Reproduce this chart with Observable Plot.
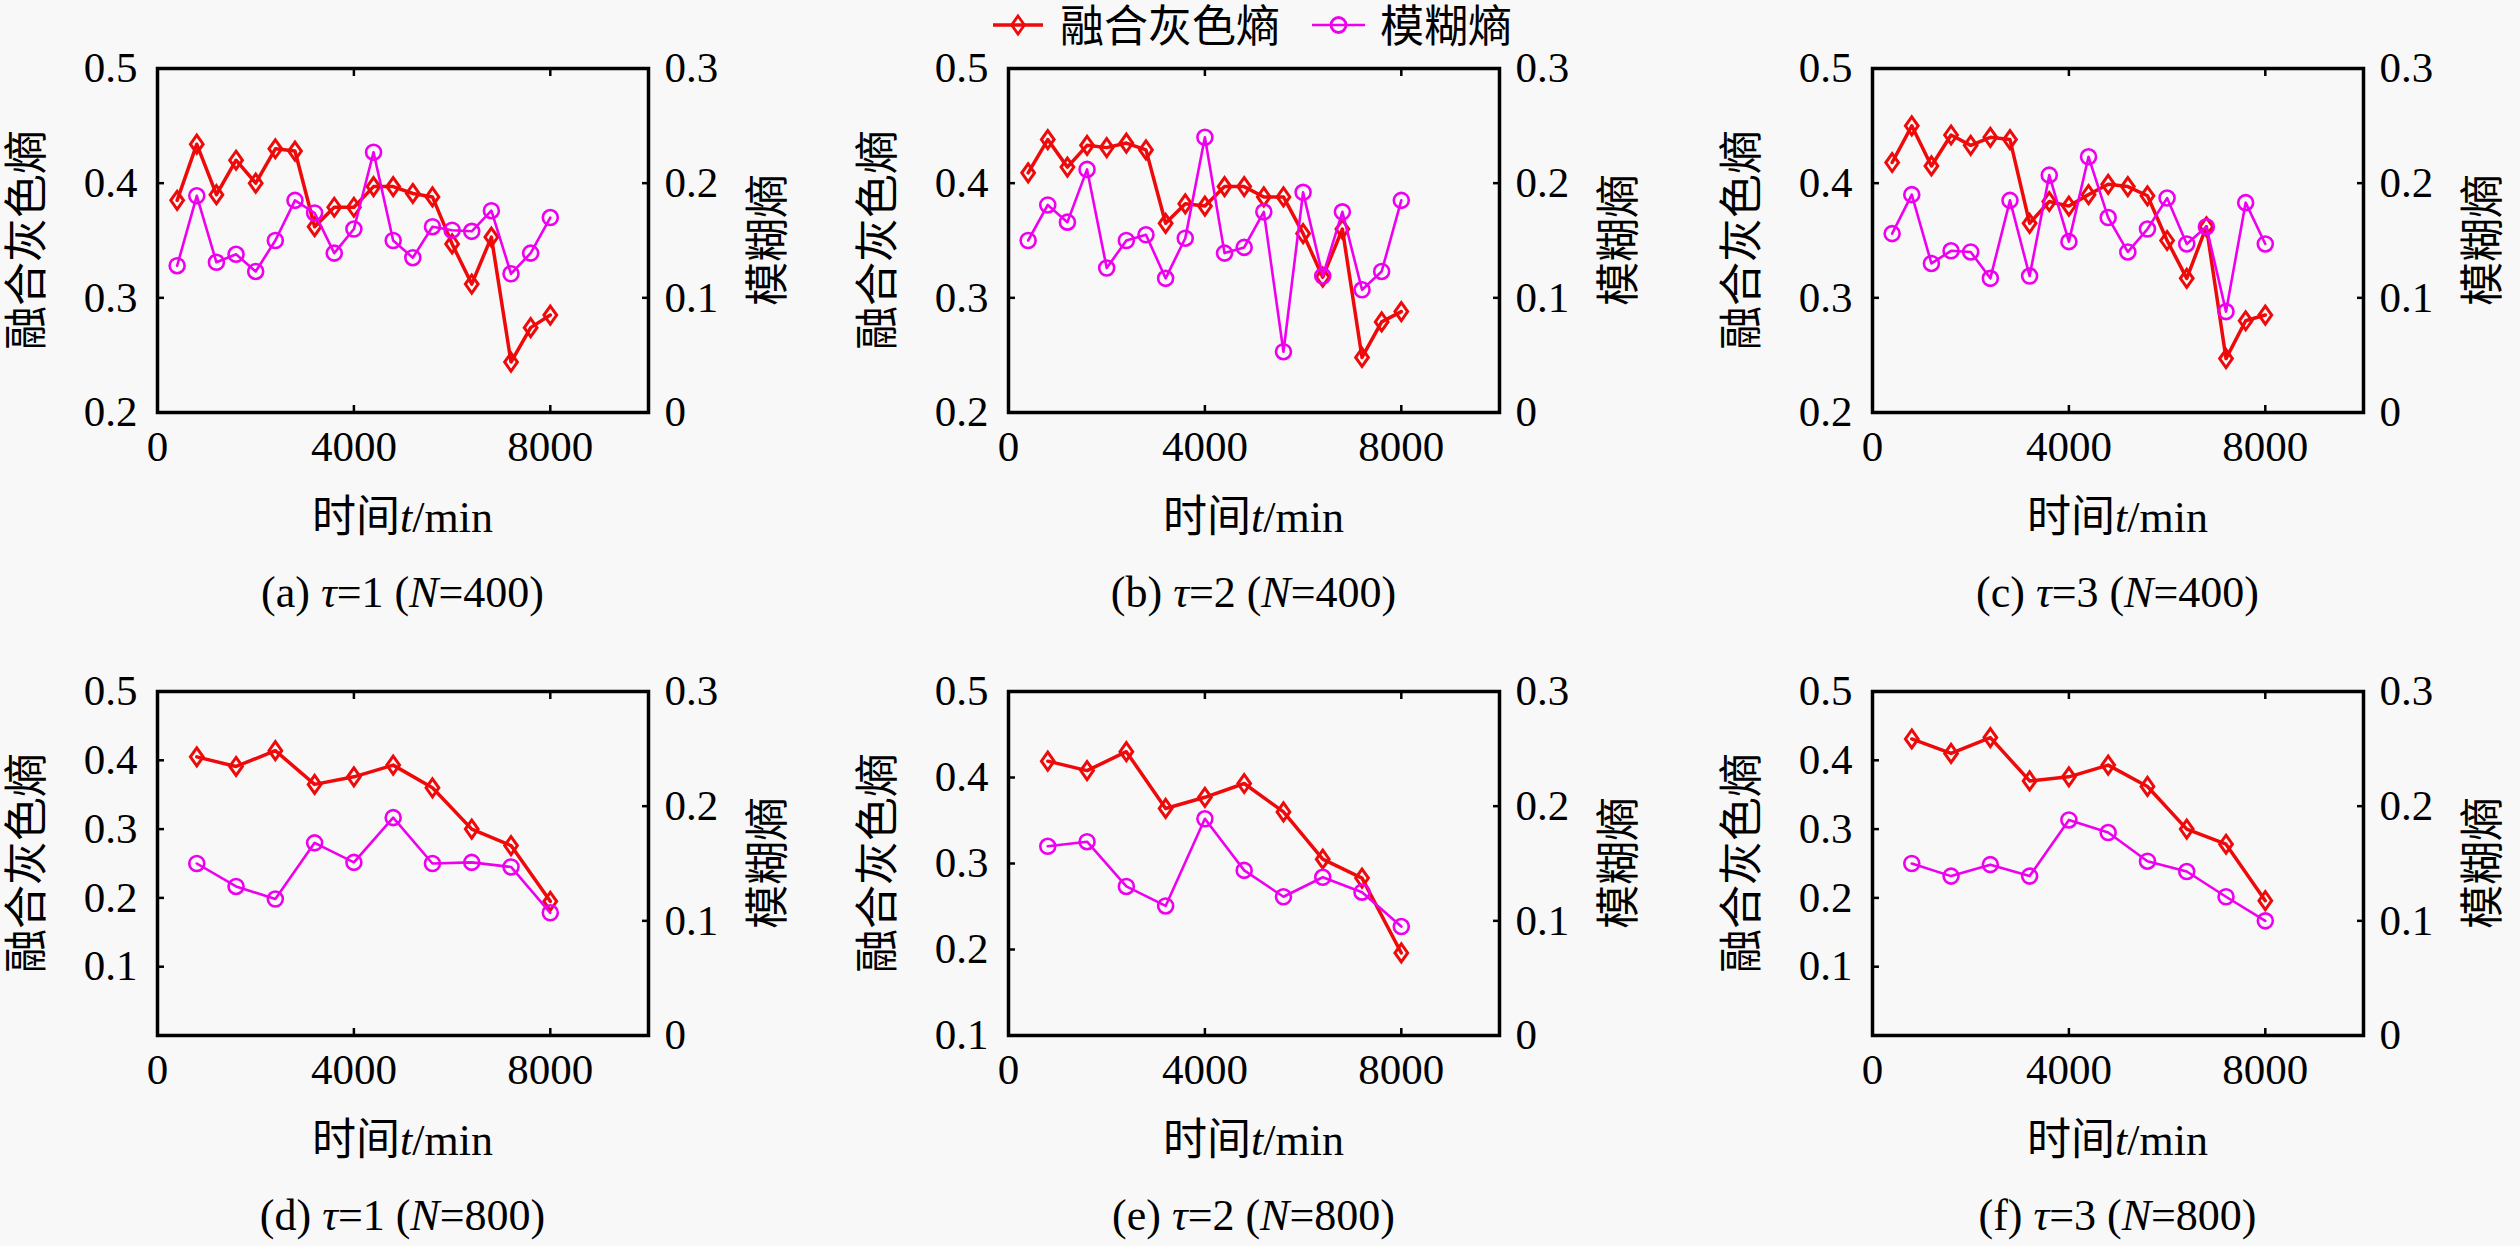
<!DOCTYPE html>
<html><head><meta charset="utf-8">
<script src="https://cdn.jsdelivr.net/npm/d3@7"></script>
<script src="https://cdn.jsdelivr.net/npm/@observablehq/plot@0.6"></script>
<style>
html,body{margin:0;padding:0;background:#f8f8f8;}
#root{position:relative;width:2520px;height:1246px;background:#f8f8f8;font-family:"Liberation Serif","Times New Roman","Noto Sans CJK SC",serif;color:#000;overflow:hidden}
.abs{position:absolute;white-space:nowrap;line-height:1}
svg text{font-family:"Liberation Serif","Times New Roman",serif;}
</style></head><body><div id="root"></div>
<script>
// ---------- data ----------
const time400 = [400,800,1200,1600,2000,2400,2800,3200,3600,4000,4400,4800,5200,5600,6000,6400,6800,7200,7600,8000];
const time800 = [800,1600,2400,3200,4000,4800,5600,6400,7200,8000];

const grayA  = [0.385,0.434,0.390,0.420,0.400,0.430,0.428,0.362,0.379,0.379,0.397,0.397,0.391,0.388,0.347,0.312,0.353,0.244,0.274,0.285];
const fuzzyA = [0.128,0.189,0.131,0.138,0.123,0.150,0.185,0.174,0.139,0.160,0.227,0.150,0.135,0.162,0.159,0.158,0.176,0.121,0.139,0.170];
const grayB  = [0.409,0.438,0.414,0.433,0.431,0.435,0.429,0.365,0.382,0.380,0.397,0.397,0.388,0.388,0.356,0.318,0.360,0.248,0.279,0.288];
const fuzzyB = [0.150,0.181,0.166,0.212,0.126,0.150,0.155,0.117,0.152,0.240,0.139,0.144,0.175,0.053,0.192,0.119,0.175,0.107,0.123,0.185];
const grayC  = [0.418,0.450,0.415,0.442,0.433,0.440,0.438,0.365,0.384,0.380,0.390,0.399,0.397,0.389,0.350,0.317,0.362,0.247,0.280,0.285];
const fuzzyC = [0.156,0.190,0.130,0.141,0.140,0.117,0.185,0.119,0.207,0.149,0.223,0.170,0.140,0.160,0.187,0.147,0.162,0.088,0.183,0.147];
const grayD  = [0.405,0.391,0.414,0.365,0.376,0.393,0.360,0.300,0.276,0.195];
const fuzzyD = [0.150,0.130,0.119,0.168,0.151,0.190,0.150,0.151,0.147,0.107];
const grayE  = [0.419,0.408,0.430,0.364,0.377,0.393,0.360,0.305,0.283,0.196];
const fuzzyE = [0.165,0.169,0.130,0.113,0.189,0.144,0.121,0.138,0.125,0.095];
const grayF  = [0.431,0.410,0.433,0.370,0.376,0.393,0.362,0.300,0.278,0.196];
const fuzzyF = [0.150,0.139,0.149,0.139,0.188,0.177,0.152,0.143,0.121,0.100];

const panelLetters = ["a","b","c","d","e","f"];
const tauValues = [1,2,3,1,2,3];
const nValues = [400,400,400,800,800,800];
const panelTimes = [time400,time400,time400,time800,time800,time800];
const panelGray = [grayA,grayB,grayC,grayD,grayE,grayF];
const panelFuzzy = [fuzzyA,fuzzyB,fuzzyC,fuzzyD,fuzzyE,fuzzyF];
const leftDomains = [[0.2,0.5],[0.2,0.5],[0.2,0.5],[0,0.5],[0.1,0.5],[0,0.5]];
const leftTicks = [[0.2,0.3,0.4,0.5],[0.2,0.3,0.4,0.5],[0.2,0.3,0.4,0.5],[0.1,0.2,0.3,0.4,0.5],[0.1,0.2,0.3,0.4,0.5],[0.1,0.2,0.3,0.4,0.5]];
const rightDomain = [0,0.3];
const rightTicks = [0,0.1,0.2,0.3];
const xDomain = [0,10000];
const xTicks = [0,4000,8000];

const seriesNames = ["融合灰色熵","模糊熵"];
const leftLabel = "融合灰色熵";
const rightLabel = "模糊熵";
const xLabelCn = "时间", xLabelVar = "t", xLabelUnit = "/min";

// ---------- style / layout ----------
const RED = "#ee0a0a", MAG = "#ee00ee";
const LATIN = '"Liberation Serif","Times New Roman",serif';
const CJK = '"Liberation Serif","Noto Sans CJK SC",serif';
const TICKFONT = {fontFamily: "Liberation Serif", fontSize: 43, fill: "#000"};
const frameLefts = [157,1008,1872], frameTops = [68,691];
const FW = 491, FH = 344;
const mL = 110, mR = 110, mT = 30, mB = 80;
const fmt = d3.format("~g");

const diamond = { draw(ctx, size) { const r = Math.sqrt(size/Math.PI); const h = r*1.2, w = r*0.85;
  ctx.moveTo(0,-h); ctx.lineTo(w,0); ctx.lineTo(0,h); ctx.lineTo(-w,0); ctx.closePath(); } };

const root = document.getElementById("root");
function addDiv(html, css) { const d = document.createElement("div"); d.className = "abs"; d.innerHTML = html; Object.assign(d.style, css); root.appendChild(d); return d; }

panelLetters.forEach((letter, i) => {
  const col = i % 3, row = Math.floor(i / 3);
  const fx = frameLefts[col], fy = frameTops[row];
  const W = FW + mL + mR, H = FH + mT + mB;
  const gray = panelTimes[i].map((t, j) => ({t, v: panelGray[i][j]}));
  const fuzzy = panelTimes[i].map((t, j) => ({t, v: panelFuzzy[i][j]}));
  const common = {width: W, height: H, marginLeft: mL, marginRight: mR, marginTop: mT, marginBottom: mB,
    style: {background: "transparent", fontFamily: LATIN, fontSize: "43px", color: "#000", overflow: "visible"}};

  const left = Plot.plot({...common,
    x: {domain: xDomain}, y: {domain: leftDomains[i]},
    marks: [
      Plot.axisX({...TICKFONT, ticks: xTicks, tickSize: -7, tickPadding: 25, tickFormat: d3.format("d"), label: null, strokeWidth: 2.5, stroke: "#000"}),
      Plot.axisX({anchor: "top", ticks: xTicks, tickSize: -7, tickFormat: () => "", label: null, strokeWidth: 2.5, stroke: "#000"}),
      Plot.axisY({...TICKFONT, ticks: leftTicks[i], tickSize: -7, tickPadding: 27, tickFormat: fmt, label: null, strokeWidth: 2.5, stroke: "#000"}),
      Plot.line(gray, {x: "t", y: "v", stroke: RED, strokeWidth: 3.5}),
      Plot.dot(gray, {x: "t", y: "v", symbol: diamond, r: 7.5, stroke: RED, strokeWidth: 3, fill: "none"}),
      Plot.frame({stroke: "#000", strokeWidth: 3.5})
    ]});
  const right = Plot.plot({...common,
    x: {domain: xDomain, axis: null}, y: {domain: rightDomain},
    marks: [
      Plot.axisY({...TICKFONT, anchor: "right", ticks: rightTicks, tickSize: -7, tickPadding: 23, tickFormat: fmt, label: null, strokeWidth: 2.5, stroke: "#000"}),
      Plot.line(fuzzy, {x: "t", y: "v", stroke: MAG, strokeWidth: 2.6}),
      Plot.dot(fuzzy, {x: "t", y: "v", symbol: "circle", r: 7.5, stroke: MAG, strokeWidth: 2.6, fill: "none"})
    ]});
  const box = document.createElement("div");
  Object.assign(box.style, {position: "absolute", left: (fx - mL) + "px", top: (fy - mT) + "px", width: W + "px", height: H + "px"});
  [left, right].forEach(s => { s.style.position = "absolute"; s.style.left = "0px"; s.style.top = "0px"; s.style.maxWidth = "none"; box.appendChild(s); });
  root.appendChild(box);

  const cx = fx + FW / 2, cy = fy + FH / 2;
  addDiv(leftLabel, {left: (fx - 129) + "px", top: cy + "px", fontFamily: CJK, fontSize: "44px", transform: "translate(-50%,-50%) rotate(-90deg)"});
  addDiv(rightLabel, {left: (fx + FW + 121) + "px", top: cy + "px", fontFamily: CJK, fontSize: "44px", transform: "translate(-50%,-50%) rotate(-90deg)"});
  addDiv(`${xLabelCn}<i>${xLabelVar}</i>${xLabelUnit}`, {left: cx + "px", top: (fy + 450) + "px", fontFamily: CJK, fontSize: "44px", transform: "translate(-50%,-50%)"});
  addDiv(`(${letter}) <i>τ</i>=${tauValues[i]} (<i>N</i>=${nValues[i]})`, {left: cx + "px", top: (fy + 525) + "px", fontFamily: LATIN, fontSize: "44px", transform: "translate(-50%,-50%)"});
});

// ---------- legend ----------
const leg = d3.select(root).append("svg").attr("width", 2520).attr("height", 60)
  .style("position", "absolute").style("left", "0px").style("top", "0px");
const legendItems = [
  {name: seriesNames[0], color: RED, sym: diamond, x0: 993, x1: 1043, tx: 1060, w: 3.5},
  {name: seriesNames[1], color: MAG, sym: d3.symbolCircle, x0: 1312, x1: 1365, tx: 1380, w: 2.6}
];
legendItems.forEach(it => {
  const ly = 25;
  leg.append("line").attr("x1", it.x0).attr("x2", it.x1).attr("y1", ly).attr("y2", ly).attr("stroke", it.color).attr("stroke-width", it.w);
  leg.append("path").attr("d", d3.symbol(it.sym, Math.PI * 7.5 * 7.5)()).attr("transform", `translate(${(it.x0 + it.x1) / 2},${ly})`)
    .attr("fill", "none").attr("stroke", it.color).attr("stroke-width", 2.8);
  leg.append("text").attr("x", it.tx).attr("y", ly + 2).attr("dominant-baseline", "central").style("font-family", CJK).attr("font-size", 44).text(it.name);
});
</script></body></html>
